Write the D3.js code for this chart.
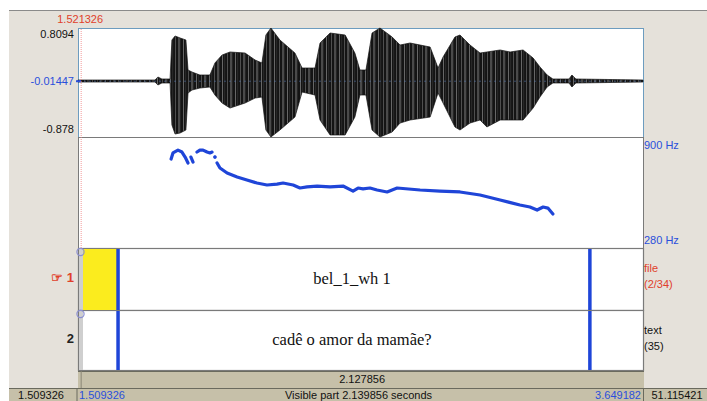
<!DOCTYPE html>
<html>
<head>
<meta charset="utf-8">
<script src="https://cdn.jsdelivr.net/npm/d3@7"></script>
<style>
	body { margin: 0; background: #ffffff; }
	svg { display: block; }
</style>
</head>
<body>
<div id="editor"></div>
<script>
// Visible window and cursor (seconds)
const visible_range = [1.509326, 3.649182];
const cursor_time = 1.521326;
const total_duration = 51.115421;

// Waveform envelope
const wave_times = [1.509, 1.801, 1.812, 1.827, 1.858, 1.865, 1.877, 1.896, 1.918, 1.926,
	1.941, 1.971, 2.009, 2.028, 2.055, 2.085, 2.142, 2.180, 2.206, 2.221,
	2.240, 2.274, 2.331, 2.358, 2.407, 2.426, 2.464, 2.521, 2.558, 2.577,
	2.600, 2.623, 2.653, 2.699, 2.729, 2.767, 2.843, 2.873, 2.892, 2.937,
	2.956, 2.994, 3.032, 3.058, 3.108, 3.146, 3.195, 3.233, 3.259, 3.286,
	3.308, 3.369, 3.380, 3.395, 3.649];
const wave_top = [0.004, 0.004, 0.051, 0.020, 0.020, 0.624, 0.686, 0.655, 0.624, 0.159,
	0.128, 0.082, 0.082, 0.268, 0.391, 0.438, 0.422, 0.314, 0.268, 0.701,
	0.809, 0.624, 0.422, 0.190, 0.190, 0.577, 0.732, 0.701, 0.422, 0.159,
	0.159, 0.732, 0.809, 0.670, 0.546, 0.577, 0.515, 0.190, 0.360, 0.670,
	0.701, 0.546, 0.422, 0.438, 0.469, 0.438, 0.469, 0.345, 0.206, 0.082,
	0.020, 0.020, 0.082, 0.020, 0.004];
const wave_bottom = [-0.027, -0.027, -0.073, -0.042, -0.042, -0.692, -0.832, -0.816, -0.770, -0.197,
	-0.151, -0.120, -0.104, -0.228, -0.352, -0.430, -0.352, -0.275, -0.259, -0.770,
	-0.878, -0.770, -0.569, -0.182, -0.228, -0.615, -0.847, -0.847, -0.569, -0.228,
	-0.228, -0.770, -0.878, -0.801, -0.662, -0.615, -0.569, -0.197, -0.352, -0.723,
	-0.770, -0.662, -0.615, -0.723, -0.615, -0.615, -0.615, -0.430, -0.259, -0.104,
	-0.042, -0.042, -0.104, -0.042, -0.027];
const wave_ticks = [0.8094, -0.01447, -0.878];

// Pitch track (Hz); null marks a gap
const pitch_times = [1.862, 1.869, 1.888, 1.903, 1.915, 1.926, 1.931,
	1.937, 1.945, 1.952,
	1.960, 1.971, 1.983, 1.998, 2.009, 2.017, 2.022,
	2.028, 2.032,
	2.036, 2.047, 2.074, 2.112, 2.149, 2.187, 2.225, 2.263, 2.286, 2.324,
	2.350, 2.377, 2.415, 2.464, 2.513, 2.551, 2.570, 2.589, 2.615, 2.642,
	2.680, 2.718, 2.805, 2.880, 2.956, 3.032, 3.108, 3.183, 3.221, 3.248,
	3.271, 3.289, 3.308];
const pitch_hz = [777, 811, 827, 816, 788, 755, null,
	788, 760, null,
	816, 827, 827, 816, 811, 816, null,
	788, null,
	755, 727, 699, 677, 660, 643, 632, 637, 643, 632,
	615, 621, 626, 621, 626, 598, 615, 610, 615, 604,
	593, 615, 604, 598, 593, 576, 548, 520, 509, 492,
	509, 503, 470];
const pitch_range = [280, 900];

// TextGrid tiers
const tier_names = ["file", "text"];
const tier_counts = ["(2/34)", "(35)"];
const tier_boundaries = [1.661, 3.448];
const tier_texts = ["bel_1_wh 1", "cadê o amor da mamãe?"];

const sans = "'Liberation Sans', Arial, Helvetica, sans-serif";
const serif = "'Liberation Serif', 'Times New Roman', serif";
const beige = "#e5e1da";
const tan = "#c6c0a9";
const blue = "#2a4fdc";

const W = 707, H = 401;
const panel = {left: 78, right: 643};
const rows = {wave: [28, 137], pitch: [137, 248], tier1: [248, 310], tier2: [310, 370], bar: [371, 388], foot: [388, 401]};

const svg = d3.select("#editor").append("svg")
	.attr("width", W)
	.attr("height", H);

const x = d3.scaleLinear().domain(visible_range).range([panel.left, panel.right]);
const y_wave = d3.scaleLinear().domain([-0.878, 0.8094]).range([rows.wave[1], rows.wave[0]]);
const y_pitch = d3.scaleLinear().domain(pitch_range).range([rows.pitch[1], rows.pitch[0]]);

// stripe pattern for the waveform body (uneven spacing, like dense sample lines)
const defs = svg.append("defs");
const pat = defs.append("pattern")
	.attr("id", "stripes")
	.attr("patternUnits", "userSpaceOnUse")
	.attr("width", 13).attr("height", 10);
pat.append("rect").attr("width", 13).attr("height", 10).attr("fill", "#141414");
[[1, 0.9, "#707070"], [3.5, 0.6, "#3a3a3a"], [6, 0.8, "#5e5e5e"], [9.5, 1, "#808080"], [11.5, 0.5, "#333"]]
	.forEach(s => pat.append("rect")
		.attr("x", s[0]).attr("width", s[1]).attr("height", 10).attr("fill", s[2]));

// window background
svg.append("rect").attr("x", 9).attr("y", 10).attr("width", W - 9).attr("height", H - 10).attr("fill", beige);
svg.append("line").attr("x1", 9).attr("x2", W).attr("y1", 10.5).attr("y2", 10.5).attr("stroke", "#8a8a8a");

// panels
svg.append("rect")
	.attr("x", panel.left + 0.5).attr("y", rows.wave[0] + 0.5)
	.attr("width", panel.right - panel.left).attr("height", rows.wave[1] - rows.wave[0])
	.attr("fill", "#fff").attr("stroke", "#6d9cbf");
svg.append("rect")
	.attr("x", panel.left + 0.5).attr("y", rows.pitch[0] + 0.5)
	.attr("width", panel.right - panel.left).attr("height", rows.pitch[1] - rows.pitch[0])
	.attr("fill", "#fff").attr("stroke", "#7a7a7a");

// tiers
const tier_rows = [rows.tier1, rows.tier2];
tier_rows.forEach((r, i) => {
	svg.append("rect")
		.attr("x", panel.left + 0.5).attr("y", r[0] + 0.5)
		.attr("width", panel.right - panel.left).attr("height", r[1] - r[0])
		.attr("fill", "#fff").attr("stroke", "#7a7a7a").attr("stroke-width", 1.2);
	svg.append("rect")
		.attr("x", panel.left + 1).attr("y", r[0] + 1)
		.attr("width", 4).attr("height", r[1] - r[0] - 1)
		.attr("fill", "#cfcfcf");
});
// selected interval
svg.append("rect")
	.attr("x", panel.left + 5).attr("y", rows.tier1[0] + 1)
	.attr("width", x(tier_boundaries[0]) - panel.left - 6)
	.attr("height", rows.tier1[1] - rows.tier1[0] - 1)
	.attr("fill", "#fbec1e");

tier_rows.forEach((r, i) => {
	svg.append("g").selectAll("line")
		.data(tier_boundaries)
		.join("line")
			.attr("x1", d => x(d)).attr("x2", d => x(d))
			.attr("y1", r[0] + 1).attr("y2", r[1])
			.attr("stroke", "#1f45d8").attr("stroke-width", 3.5);
	svg.append("circle")
		.attr("cx", panel.left + 2.5).attr("cy", r[0] + 4)
		.attr("r", 3.6)
		.attr("fill", "none").attr("stroke", "#8b8fd2").attr("stroke-width", 1.2);
	const mid = (tier_boundaries[0] + tier_boundaries[1]) / 2;
	svg.append("text")
		.attr("x", x(mid) - 2).attr("y", (r[0] + r[1]) / 2 + 5)
		.attr("text-anchor", "middle")
		.attr("font-family", serif).attr("font-size", 16.5)
		.attr("fill", "#111")
		.text(tier_texts[i]);
	svg.append("text")
		.attr("x", 644).attr("y", r[0] + 24)
		.attr("font-family", sans).attr("font-size", 11)
		.attr("fill", i == 0 ? "#e0402a" : "#111")
		.text(tier_names[i]);
	svg.append("text")
		.attr("x", 644).attr("y", r[0] + 40)
		.attr("font-family", sans).attr("font-size", 11)
		.attr("fill", i == 0 ? "#e0402a" : "#111")
		.text(tier_counts[i]);
});
svg.append("text")
	.attr("x", 74).attr("y", 282).attr("text-anchor", "end")
	.attr("font-family", sans).attr("font-size", 13).attr("font-weight", "bold")
	.attr("fill", "#e0402a")
	.text("☞ 1");
svg.append("text")
	.attr("x", 74).attr("y", 343).attr("text-anchor", "end")
	.attr("font-family", sans).attr("font-size", 13).attr("font-weight", "bold")
	.attr("fill", "#222")
	.text("2");

// waveform
const idx = d3.range(wave_times.length);
svg.append("path")
	.datum(idx)
	.attr("d", d3.area()
		.x(i => x(wave_times[i]))
		.y0(i => y_wave(wave_bottom[i]))
		.y1(i => y_wave(wave_top[i])))
	.attr("fill", "url(#stripes)")
	.attr("stroke", "#111").attr("stroke-width", 0.7);
svg.append("line")
	.attr("x1", panel.left + 1).attr("x2", panel.right)
	.attr("y1", y_wave(wave_ticks[1])).attr("y2", y_wave(wave_ticks[1]))
	.attr("stroke", "#5a7fc0").attr("stroke-opacity", 0.5)
	.attr("stroke-dasharray", "2,3");
svg.append("line")
	.attr("x1", panel.left - 2).attr("x2", panel.left + 3)
	.attr("y1", y_wave(wave_ticks[1])).attr("y2", y_wave(wave_ticks[1]))
	.attr("stroke", "#2a4fdc").attr("stroke-width", 2);

// pitch
const pidx = d3.range(pitch_times.length);
svg.append("path")
	.datum(pidx)
	.attr("d", d3.line()
		.defined(i => pitch_hz[i] != null)
		.x(i => x(pitch_times[i]))
		.y(i => y_pitch(pitch_hz[i])))
	.attr("fill", "none")
	.attr("stroke", "#1f45d8").attr("stroke-width", 3.2)
	.attr("stroke-linecap", "round").attr("stroke-linejoin", "round");
// isolated pitch points
svg.append("g").selectAll("circle")
	.data(pidx.filter(i => pitch_hz[i] != null
		&& (i == 0 || pitch_hz[i - 1] == null)
		&& (i == pitch_hz.length - 1 || pitch_hz[i + 1] == null)))
	.join("circle")
		.attr("cx", i => x(pitch_times[i]))
		.attr("cy", i => y_pitch(pitch_hz[i]))
		.attr("r", 1.7)
		.attr("fill", "#1f45d8");

// cursor
svg.append("line")
	.attr("x1", x(cursor_time)).attr("x2", x(cursor_time))
	.attr("y1", rows.wave[0] + 1).attr("y2", rows.pitch[1])
	.attr("stroke", "#f08080").attr("stroke-width", 0.8)
	.attr("stroke-dasharray", "1,1");

// axis labels
svg.append("g").selectAll("text")
	.data(wave_ticks)
	.join("text")
		.attr("x", 74)
		.attr("y", (d, i) => i == 0 ? 38 : i == 1 ? 85 : 133)
		.attr("text-anchor", "end")
		.attr("font-family", sans).attr("font-size", 11)
		.attr("fill", (d, i) => i == 1 ? blue : "#111")
		.text(d => d);
svg.append("text")
	.attr("x", x(cursor_time) - 1).attr("y", 23)
	.attr("text-anchor", "middle")
	.attr("font-family", sans).attr("font-size", 11)
	.attr("fill", "#e0402a")
	.text(cursor_time.toFixed(6));
svg.append("g").selectAll("text")
	.data(pitch_range.slice().reverse())
	.join("text")
		.attr("x", 644)
		.attr("y", d => y_pitch(d) + (d == pitch_range[1] ? 12 : -4))
		.attr("font-family", sans).attr("font-size", 11)
		.attr("fill", blue)
		.text(d => d + " Hz");

// duration bar
svg.append("rect")
	.attr("x", panel.left).attr("y", rows.bar[0])
	.attr("width", panel.right - panel.left + 1).attr("height", rows.bar[1] - rows.bar[0])
	.attr("fill", tan);
svg.append("line")
	.attr("x1", panel.left).attr("x2", panel.right + 1)
	.attr("y1", rows.bar[0] + 0.5).attr("y2", rows.bar[0] + 0.5)
	.attr("stroke", "#6a6a5e");
svg.append("line")
	.attr("x1", x(cursor_time)).attr("x2", x(cursor_time))
	.attr("y1", rows.bar[0]).attr("y2", rows.bar[1])
	.attr("stroke", "#8a8676");
svg.append("text")
	.attr("x", (x(cursor_time) + panel.right) / 2).attr("y", 383)
	.attr("text-anchor", "middle")
	.attr("font-family", sans).attr("font-size", 11).attr("fill", "#111")
	.text((visible_range[1] - cursor_time).toFixed(6));

// footer
svg.append("rect")
	.attr("x", 9).attr("y", rows.foot[0])
	.attr("width", W - 9).attr("height", rows.foot[1] - rows.foot[0])
	.attr("fill", tan);
svg.append("line")
	.attr("x1", 9).attr("x2", W)
	.attr("y1", rows.foot[0] + 0.5).attr("y2", rows.foot[0] + 0.5)
	.attr("stroke", "#6a6a5e");
svg.append("g").selectAll("line")
	.data([panel.left - 1, panel.right + 0.5])
	.join("line")
		.attr("x1", d => d).attr("x2", d => d)
		.attr("y1", rows.foot[0]).attr("y2", H)
		.attr("stroke", "#6a6a5e");
const foot = svg.append("g")
	.attr("font-family", sans).attr("font-size", 11);
foot.append("text").attr("x", 41).attr("y", 399).attr("text-anchor", "middle")
	.attr("fill", "#111").text(visible_range[0].toFixed(6));
foot.append("text").attr("x", 79).attr("y", 399)
	.attr("fill", blue).text(visible_range[0].toFixed(6));
foot.append("text").attr("x", (panel.left + panel.right) / 2 - 2).attr("y", 399).attr("text-anchor", "middle")
	.attr("fill", "#111").text("Visible part " + (visible_range[1] - visible_range[0]).toFixed(6) + " seconds");
foot.append("text").attr("x", 641).attr("y", 399).attr("text-anchor", "end")
	.attr("fill", blue).text(visible_range[1].toFixed(6));
foot.append("text").attr("x", 677).attr("y", 399).attr("text-anchor", "middle")
	.attr("fill", "#111").text(total_duration.toFixed(6));
</script>
</body>
</html>
